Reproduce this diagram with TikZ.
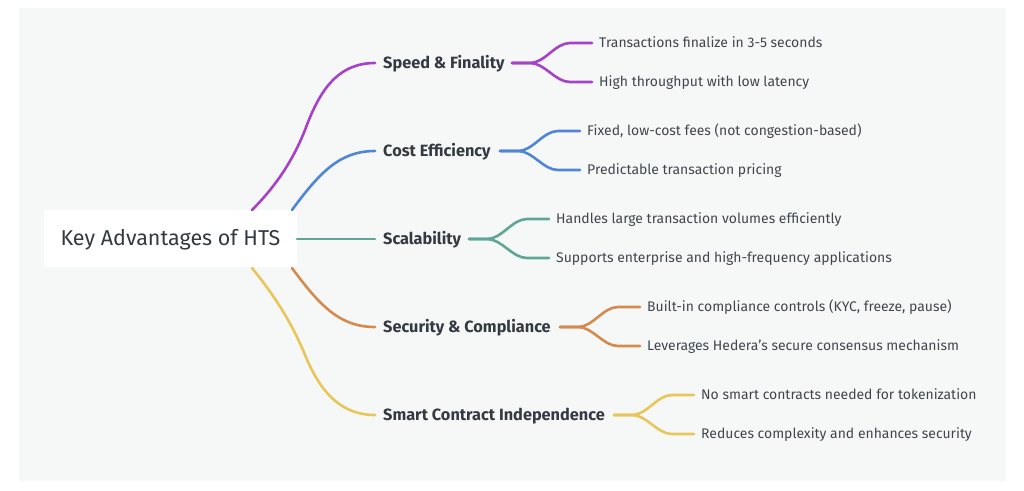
\documentclass[tikz,border=0pt]{standalone}
\usepackage{fontspec}
\setmainfont{Fira Sans}
\definecolor{bgc}{HTML}{F6F8F8}
\definecolor{txt}{HTML}{343A42}
\definecolor{leaftxt}{HTML}{40464D}
\definecolor{cpur}{HTML}{A542C8}
\definecolor{cblu}{HTML}{4F86D6}
\definecolor{ctea}{HTML}{5FA696}
\definecolor{cora}{HTML}{D58A4E}
\definecolor{cyel}{HTML}{E8C65A}
\begin{document}
\begin{tikzpicture}[x=1pt,y=-1pt,
  rootbox/.style={fill=white,rounded corners=3pt,minimum width=253pt,minimum height=57pt,inner sep=0pt,text height=14.8pt,text depth=0pt,text=txt,font=\fontsize{21.5}{25}\selectfont},
  mainlab/.style={anchor=west,inner xsep=8pt,inner ysep=0pt,text height=11.2pt,text depth=0pt,text=txt,font=\fontsize{16.3}{19}\selectfont\bfseries},
  leaflab/.style={anchor=west,inner xsep=7pt,inner ysep=0pt,text height=9.6pt,text depth=0pt,text=leaftxt,font=\fontsize{13.95}{16}\selectfont},
  link/.style={line width=2.6pt,line cap=round}]
\useasboundingbox (0,0) rectangle (1024,490);
\fill[white] (0,0) rectangle (1024,490);
\fill[bgc] (19,8) rectangle (1006,481);
\node[rootbox] (root) at (170.5,238.5) {Key Advantages of HTS};
% main labels
\node[mainlab] (s1) at (375,63) {Speed \& Finality};
\node[mainlab] (s2) at (375,151) {Cost Efficiency};
\node[mainlab] (s3) at (375,239) {Scalability};
\node[mainlab] (s4) at (375,327) {Security \& Compliance};
\node[mainlab] (s5) at (375,415) {Smart Contract Independence};
% leaves
\node[leaflab] (l11) at (592,43) {Transactions finalize in 3-5 seconds};
\node[leaflab] (l12) at (592,82) {High throughput with low latency};
\node[leaflab] (l21) at (580,131) {Fixed, low-cost fees (not congestion-based)};
\node[leaflab] (l22) at (580,170) {Predictable transaction pricing};
\node[leaflab] (l31) at (549,219) {Handles large transaction volumes efficiently};
\node[leaflab] (l32) at (549,258) {Supports enterprise and high-frequency applications};
\node[leaflab] (l41) at (640,307) {Built-in compliance controls (KYC, freeze, pause)};
\node[leaflab] (l42) at (640,346) {Leverages Hedera’s secure consensus mechanism};
\node[leaflab] (l51) at (694,395) {No smart contracts needed for tokenization};
\node[leaflab] (l52) at (694,434) {Reduces complexity and enhances security};
% root connector start points
\coordinate (r1) at (252,210);
\coordinate (r2) at (292,210);
\coordinate (r3) at (297,239);
\coordinate (r4) at (292,268);
\coordinate (r5) at (252,268);
% split start points
\coordinate (j1) at (512,63);
\coordinate (j2) at (500,151);
\coordinate (j3) at (469,239);
\coordinate (j4) at (560,327);
\coordinate (j5) at (614,415);
% root links
\draw[link,cpur] (r1) .. controls (280,182) and (295,155) .. (305,130) .. controls (318,95) and (335,63) .. (s1.west);
\draw[link,cblu] (r2) .. controls (320,172) and (340,151) .. (s2.west);
\draw[link,ctea] (r3) -- (s3.west);
\draw[link,cora] (r4) .. controls (320,306) and (340,327) .. (s4.west);
\draw[link,cyel] (r5) .. controls (278,300) and (292,325) .. (303,350) .. controls (316,383) and (335,415) .. (s5.west);
% split links
\foreach \j/\a/\b/\c in {j1/l11/l12/cpur,j2/l21/l22/cblu,j3/l31/l32/ctea,j4/l41/l42/cora,j5/l51/l52/cyel}{
  \draw[link,\c] (\j) -- ++(18,0) .. controls ++(15,0) and ([xshift=-37pt]\a.west) .. ([xshift=-22pt]\a.west) -- (\a.west);
  \draw[link,\c] (\j) -- ++(18,0) .. controls ++(15,0) and ([xshift=-37pt]\b.west) .. ([xshift=-22pt]\b.west) -- (\b.west);
}
\end{tikzpicture}
\end{document}
